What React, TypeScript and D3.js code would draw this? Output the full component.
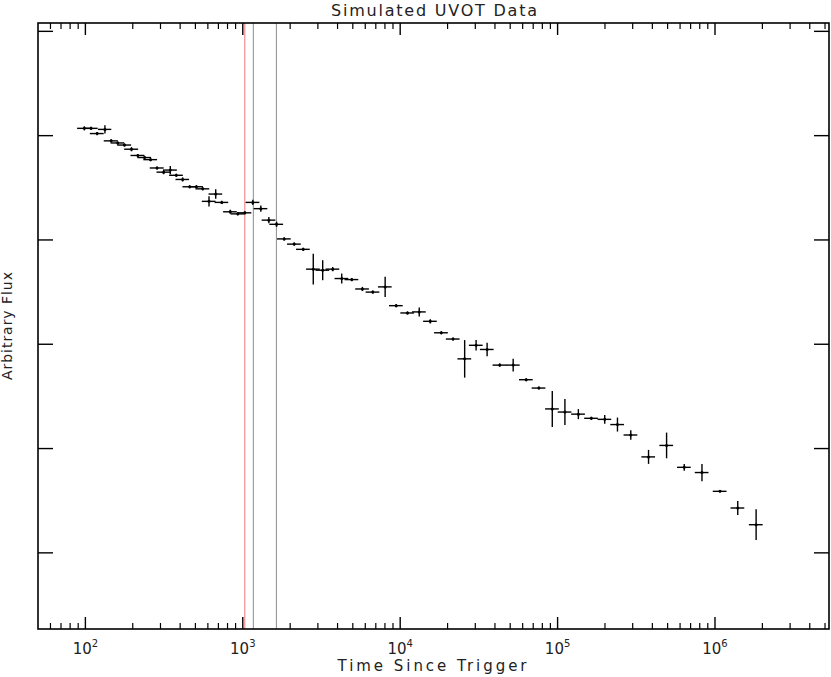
import { useEffect } from 'react'
import * as d3 from 'd3'

// seconds since trigger (bin centres) and half-widths of the time bins
const times = [98.5, 108.7, 118.7, 133.1, 145.8, 160.6, 177.2, 196.3, 215.4, 237.6,
  259.4, 285.4, 314, 346.3, 378.2, 414.8, 459.7, 507.2, 556.3, 610.1,
  673, 734.9, 832.5, 929.4, 1030, 1158, 1302, 1464, 1639, 1833,
  2122, 2422, 2804, 3218, 3727, 4253, 4925, 5753, 6700, 8025,
  9430, 11130, 13210, 15530, 18250, 21670, 25680, 30360, 35660, 42910,
  52210, 63180, 76030, 92520, 111300, 135500, 163900, 199300, 240100, 291700,
  378300, 492500, 637600, 826400, 1076000, 1395000, 1825000]

const timeErr = [9.9, 11, 12, 13, 15, 16, 18, 20, 22, 24,
  26, 29, 31, 35, 38, 41, 46, 51, 56, 61,
  67, 73, 83, 93, 103, 116, 130, 146, 164, 183,
  212, 242, 280, 322, 373, 425, 493, 575, 670, 800,
  943, 1110, 1320, 1550, 1830, 2170, 2570, 3040, 3570, 4290,
  5220, 6320, 7600, 9250, 11100, 13600, 16400, 19900, 24000, 29200,
  37800, 49300, 63800, 82600, 108000, 140000, 183000]

const flux = [5.07, 5.07, 5.02, 5.06, 4.95, 4.93, 4.91, 4.87, 4.81, 4.79,
  4.77, 4.69, 4.65, 4.67, 4.62, 4.58, 4.51, 4.51, 4.49, 4.37,
  4.44, 4.36, 4.27, 4.25, 4.26, 4.36, 4.30, 4.19, 4.15, 4.01,
  3.96, 3.91, 3.72, 3.71, 3.72, 3.63, 3.62, 3.53, 3.50, 3.55,
  3.37, 3.30, 3.31, 3.22, 3.11, 3.05, 2.86, 2.99, 2.95, 2.80,
  2.80, 2.66, 2.58, 2.38, 2.35, 2.33, 2.29, 2.28, 2.23, 2.13,
  1.92, 2.03, 1.82, 1.77, 1.59, 1.43, 1.27]

const fluxErr = [0.02, 0.015, 0.015, 0.04, 0.015, 0.015, 0.015, 0.02, 0.015, 0.015,
  0.015, 0.015, 0.02, 0.04, 0.015, 0.02, 0.015, 0.015, 0.015, 0.05,
  0.045, 0.015, 0.02, 0.015, 0.015, 0.025, 0.03, 0.03, 0.025, 0.015,
  0.015, 0.015, 0.147, 0.096, 0.02, 0.048, 0.015, 0.02, 0.015, 0.096,
  0.015, 0.015, 0.043, 0.02, 0.015, 0.015, 0.18, 0.051, 0.064, 0.015,
  0.062, 0.015, 0.015, 0.173, 0.125, 0.048, 0.015, 0.041, 0.067, 0.045,
  0.067, 0.123, 0.032, 0.083, 0.01, 0.067, 0.147]

// vertical marker lines (s)
const markerTimes = [1030, 1167, 1635]
const markerColors = ['#f07878', '#8c8c8c', '#8c8c8c']

const decadeTicks = [1e2, 1e3, 1e4, 1e5, 1e6]
const fluxTicks = [1, 2, 3, 4, 5, 6]

const W = 831
const H = 677
const margin = { top: 23, right: 2, bottom: 48, left: 38 }
const FONT = '"DejaVu Sans", "Liberation Sans", sans-serif'

export default function App() {
  useEffect(() => {
    document.body.style.margin = '0'
  }, [])

  const x = d3.scaleLog().domain([50, 5.3e6]).range([margin.left, W - margin.right])
  const y = d3.scaleLinear().domain([0.27, 6.08]).range([H - margin.bottom, margin.top])
  const [x0, x1] = x.range()
  const [y0, y1] = y.range() // y0 bottom, y1 top

  const minorTicks: number[] = []
  for (let e = 1; e <= 6; e++) {
    for (let k = 2; k <= 9; k++) {
      const v = k * Math.pow(10, e)
      if (v > 50 && v < 5.3e6) minorTicks.push(v)
    }
  }

  const points = times.map((t, i) => ({
    t, lo: t - timeErr[i], hi: t + timeErr[i], f: flux[i], e: fluxErr[i],
  }))

  return (
    <svg width={W} height={H} style={{ display: 'block', background: '#fff' }} fontFamily={FONT} fill="#222">
      <text x={434} y={16} textAnchor="middle" fontSize={16} textLength={206} lengthAdjust="spacing">
        Simulated UVOT Data
      </text>

      {markerTimes.map((t, i) => (
        <line key={'m' + i} x1={x(t)} x2={x(t)} y1={y1} y2={y0} stroke={markerColors[i]} strokeWidth={1} />
      ))}

      {/* x ticks, bottom and top */}
      {decadeTicks.map(t => (
        <g key={'d' + t}>
          <line x1={x(t)} x2={x(t)} y1={y0} y2={y0 - 12} stroke="#000" strokeWidth={1.4} />
          <line x1={x(t)} x2={x(t)} y1={y1} y2={y1 + 12} stroke="#000" strokeWidth={1.4} />
          <text x={x(t)} y={654} textAnchor="middle" fontSize={15}>
            10<tspan dy={-7} fontSize={10}>{Math.round(Math.log10(t))}</tspan>
          </text>
        </g>
      ))}
      {minorTicks.map(t => (
        <g key={'n' + t}>
          <line x1={x(t)} x2={x(t)} y1={y0} y2={y0 - 6} stroke="#000" strokeWidth={1.2} />
          <line x1={x(t)} x2={x(t)} y1={y1} y2={y1 + 6} stroke="#000" strokeWidth={1.2} />
        </g>
      ))}

      {/* y ticks, left and right, unlabeled */}
      {fluxTicks.map(v => (
        <g key={'y' + v}>
          <line x1={x0} x2={x0 + 15} y1={y(v)} y2={y(v)} stroke="#000" strokeWidth={1.4} />
          <line x1={x1} x2={x1 - 15} y1={y(v)} y2={y(v)} stroke="#000" strokeWidth={1.4} />
        </g>
      ))}

      <rect x={x0} y={y1} width={x1 - x0} height={y0 - y1} fill="none" stroke="#000" strokeWidth={1.6} />

      {points.map((p, i) => (
        <g key={'p' + i} stroke="#000" strokeWidth={1.4}>
          <line x1={x(p.lo)} x2={x(p.hi)} y1={y(p.f)} y2={y(p.f)} />
          <line x1={x(p.t)} x2={x(p.t)} y1={y(p.f - p.e)} y2={y(p.f + p.e)} />
          <circle cx={x(p.t)} cy={y(p.f)} r={1.5} fill="#000" stroke="none" />
        </g>
      ))}

      <text x={432} y={671} textAnchor="middle" fontSize={15} textLength={189} lengthAdjust="spacing">
        Time Since Trigger
      </text>
      <text transform="translate(12,326) rotate(-90)" textAnchor="middle" fontSize={14} textLength={108} lengthAdjust="spacing">
        Arbitrary Flux
      </text>
    </svg>
  )
}
